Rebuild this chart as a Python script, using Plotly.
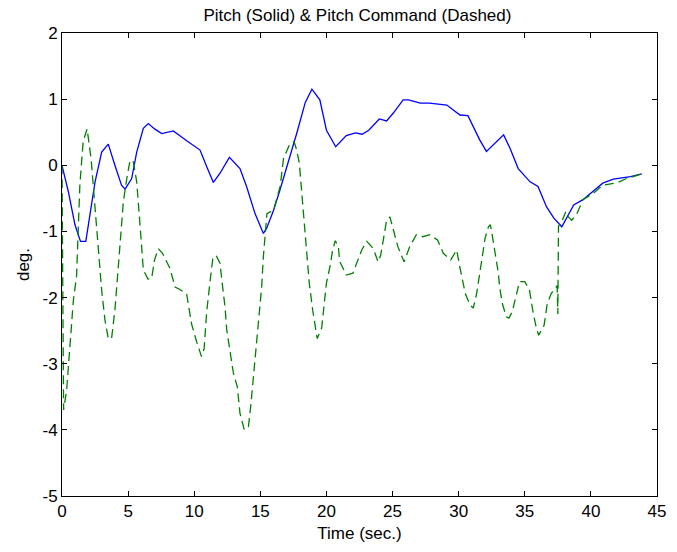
import plotly.graph_objects as go

# Pitch response (solid)
pitch_t = [0, 0.48, 0.98, 1.4, 1.8, 2.0, 2.5, 3.0, 3.5, 4.0, 4.5, 4.77, 5.27, 5.65, 6.15,
           6.53, 7.0, 7.54, 8.42, 9.43, 10.44, 10.94, 11.45, 11.95, 12.66, 13.46, 13.96,
           14.6, 15.23, 15.48, 16.0, 16.49, 17.2, 17.75, 18.4, 18.9, 19.5, 20.0, 20.7,
           21.5, 22.2, 22.7, 23.2, 24.0, 24.55, 25.06, 25.8, 26.2, 27.1, 27.8, 29.1,
           30.1, 30.7, 31.6, 32.1, 33.4, 33.9, 34.5, 35.4, 36.0, 36.65, 37.2, 37.8,
           38.7, 39.4, 40.9, 41.7, 43.0, 43.85]
pitch_deg = [0, -0.4, -0.9, -1.15, -1.15, -0.9, -0.25, 0.2, 0.32, 0.0, -0.3, -0.36, -0.2,
             0.2, 0.56, 0.63, 0.55, 0.48, 0.52, 0.37, 0.23, -0.02, -0.26, -0.12, 0.12,
             -0.05, -0.32, -0.73, -1.03, -0.95, -0.68, -0.37, 0.1, 0.48, 0.95, 1.15, 0.99,
             0.53, 0.28, 0.45, 0.49, 0.47, 0.53, 0.70, 0.67, 0.79, 0.99, 0.99, 0.94, 0.94,
             0.91, 0.76, 0.75, 0.38, 0.21, 0.46, 0.25, -0.05, -0.25, -0.32, -0.63, -0.80,
             -0.93, -0.60, -0.52, -0.27, -0.21, -0.17, -0.13]

# Pitch command (dashed)
cmd_t = [0.0, 0.05, 0.12, 0.35, 0.6, 0.86, 1.1, 1.23, 1.35, 1.6, 1.9, 2.2, 2.5, 2.75, 3.0,
         3.25, 3.5, 3.75, 4.0, 4.26, 4.5, 4.64, 4.9, 5.15, 5.4, 5.65, 5.9, 6.0, 6.15, 6.5,
         6.78, 7.0, 7.28, 7.6, 8.17, 8.55, 8.85, 9.43, 9.8, 10.2, 10.55, 10.75, 10.94,
         11.2, 11.4, 11.65, 11.95, 12.15, 12.33, 12.46, 12.66, 12.96, 13.26, 13.46, 13.79,
         14.1, 14.27, 14.5, 14.73, 14.9, 15.1, 15.23, 15.35, 15.5, 16.0, 16.5, 16.75,
         17.2, 17.55, 17.75, 17.95, 18.13, 18.3, 18.5, 18.7, 18.96, 19.14, 19.3, 19.64,
         19.8, 20.0, 20.27, 20.47, 20.67, 20.9, 21.0, 21.5, 22.0, 22.4, 22.67, 23.05,
         23.55, 23.9, 24.1, 24.3, 24.55, 24.8, 25.06, 25.4, 25.87, 26.3, 26.8, 27.3,
         27.8, 28.4, 28.84, 29.4, 29.7, 29.85, 30.1, 30.3, 30.5, 30.86, 31.1, 31.36,
         31.6, 31.87, 32.0, 32.25, 32.4, 32.6, 32.8, 33.0, 33.1, 33.3, 33.6, 33.8, 34.06,
         34.4, 34.6, 35.0, 35.35, 35.6, 35.85, 36.05, 36.46, 36.7, 37.0, 37.3, 37.45,
         37.5, 37.55, 37.8, 38.1, 38.3, 38.55, 38.9, 39.4, 40.2, 40.9, 41.9, 42.7, 43.85]
cmd_deg = [0.0, -2.0, -3.7, -3.4, -2.74, -2.04, -1.68, -1.02, -0.3, 0.36, 0.55, 0.1, -0.70,
           -1.23, -1.89, -2.34, -2.62, -2.62, -2.19, -1.53, -0.83, -0.55, -0.2, 0.08, 0.05,
           -0.25, -0.9, -1.18, -1.58, -1.72, -1.71, -1.43, -1.26, -1.33, -1.56, -1.84,
           -1.87, -1.95, -2.40, -2.68, -2.89, -2.77, -2.22, -1.75, -1.42, -1.36, -1.48,
           -1.84, -2.14, -2.49, -2.74, -3.14, -3.35, -3.75, -4.0, -3.95, -3.65, -3.14,
           -2.64, -2.19, -1.84, -1.38, -1.08, -0.73, -0.68, -0.32, 0.1, 0.31, 0.36, 0.23,
           0.03, -0.42, -0.83, -1.40, -1.78, -2.19, -2.44, -2.62, -2.46, -2.14, -1.78,
           -1.53, -1.28, -1.14, -1.23, -1.45, -1.66, -1.63, -1.43, -1.28, -1.15, -1.26,
           -1.46, -1.36, -1.13, -0.83, -0.78, -0.98, -1.23, -1.46, -1.23, -1.05, -1.08,
           -1.05, -1.13, -1.33, -1.43, -1.33, -1.28, -1.55, -1.75, -1.94, -2.11, -2.16,
           -1.94, -1.63, -1.28, -1.10, -0.93, -0.90, -1.13, -1.38, -1.63, -1.84, -2.09,
           -2.29, -2.31, -2.21, -1.94, -1.76, -1.76, -1.88, -2.19, -2.44, -2.57, -2.42,
           -2.09, -1.94, -1.86, -1.82, -2.25, -0.92, -0.85, -0.70, -0.78, -0.83, -0.75,
           -0.52, -0.42, -0.30, -0.27, -0.20, -0.13]

x_ticks = [0, 5, 10, 15, 20, 25, 30, 35, 40, 45]
y_ticks = [-5, -4, -3, -2, -1, 0, 1, 2]
y_tick_labels = ["-5", "-4", "-3", "-2", "-1", "0", "1", "2"]

FONT = "Liberation Sans, Arial, sans-serif"
text_font = dict(family=FONT, size=17, color="black")

fig = go.Figure()
fig.add_trace(go.Scatter(x=pitch_t, y=pitch_deg, mode="lines",
                         line=dict(color="#0000ff", width=1.3)))
fig.add_trace(go.Scatter(x=cmd_t, y=cmd_deg, mode="lines",
                         line=dict(color="#008000", width=1.3, dash="9px,5px")))

axis_common = dict(showgrid=False, zeroline=False, showline=True, linecolor="black",
                   linewidth=1, mirror="ticks", ticks="inside", ticklen=5,
                   tickcolor="black", tickfont=text_font)

fig.update_layout(
    width=677, height=552,
    margin=dict(l=62, r=20, t=33, b=56),
    paper_bgcolor="white", plot_bgcolor="white",
    showlegend=False,
    title=dict(text="Pitch (Solid) & Pitch Command (Dashed)", x=0.528, xanchor="center",
               y=0.973, yanchor="middle", font=text_font),
    xaxis=dict(range=[0, 45], tickvals=x_ticks,
               title=dict(text="Time (sec.)", standoff=6, font=text_font),
               **axis_common),
    yaxis=dict(range=[-5, 2], tickvals=y_ticks, ticktext=y_tick_labels,
               title=dict(text="deg.", standoff=8, font=text_font),
               **axis_common),
)

fig.write_html("out.html")
